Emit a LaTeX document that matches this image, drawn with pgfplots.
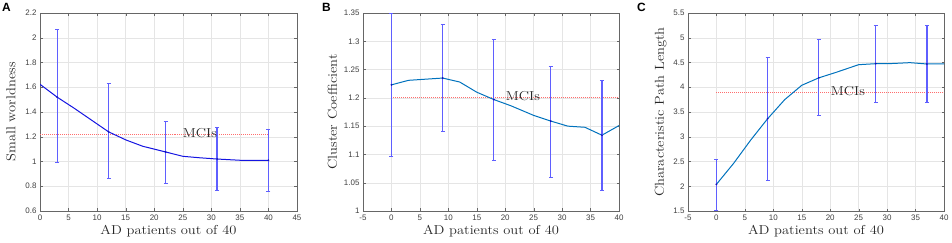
\documentclass[border=0pt]{standalone}
\usepackage{pgfplots}
\pgfplotsset{compat=1.18}
\usepackage{pgfplotstable}
\usepackage{fontspec}
\setmainfont{Latin Modern Roman}[FakeStretch=1.12]
\newfontfamily\ticksans{Liberation Sans}
\definecolor{mblue}{RGB}{0,114,189}
\definecolor{lblue}{RGB}{20,20,225}
\definecolor{errc}{RGB}{95,95,255}
\definecolor{mcired}{RGB}{255,110,110}
\pgfplotsset{
  panel/.style={
    scale only axis, width=256bp, height=198bp, anchor=south west,
    grid=major, grid style={black!10, line width=0.4pt},
    axis line style={black!60}, tick style={black!60},
    major tick length=2.5bp, tick align=inside,
    xtick pos=both, ytick pos=both,
    tick label style={font=\ticksans\fontsize{8}{9}\selectfont, text=black!75},
    /pgf/number format/assume math mode=true,
    label style={font=\fontsize{13}{15}\selectfont, text=black!85},
    xlabel={AD patients out of 40},
    xlabel style={yshift=2bp},
  },
  errs/.style={only marks, mark=*, mark size=0.7bp, color=lblue!80!black,
    error bars/.cd, y dir=both, y explicit,
    error bar style={draw=errc, color=errc, line width=1.25pt},
    error mark options={rotate=90, mark size=2bp, draw=errc, color=errc, line width=1pt}},
  mci/.style={mcired, densely dotted, line width=1pt},
}
\pgfplotstableread{
x y ep em
3 1.52 0.545 0.532
12 1.24 0.394 0.381
22 1.077 0.250 0.253
31 1.02 0.251 0.256
40 1.01 0.250 0.251
}\errA
\pgfplotstableread{
x y ep em
0 1.223 0.127 0.126
9 1.235 0.094 0.094
18 1.197 0.107 0.108
28 1.159 0.097 0.099
37 1.134 0.097 0.097
}\errB
\pgfplotstableread{
x y ep em
0 2.04 0.51 0.527
9 3.365 1.239 1.252
18 4.19 0.765 0.757
28 4.476 0.781 0.774
37 4.47 0.774 0.788
}\errC
\begin{document}
\begin{tikzpicture}
\useasboundingbox (0,0) rectangle (952bp,243bp);
% Panel A
\begin{axis}[panel, at={(40bp,32bp)}, width=257bp,
  xmin=0, xmax=45, ymin=0.6, ymax=2.2,
  xtick={0,5,...,45}, ytick={0.6,0.8,1,1.2,1.4,1.6,1.8,2,2.2},
  ylabel={Small worldness}, ylabel style={yshift=3bp}]
\addplot[mci] coordinates {(0,1.22) (40,1.22)};
\addplot[lblue, line width=1pt] coordinates {
(0,1.624) (3,1.52) (6,1.43) (9,1.335) (12,1.24) (15,1.175) (18,1.123)
(22,1.077) (25,1.042) (28,1.03) (31,1.02) (35,1.01) (40,1.01)};
\addplot[errs] table[y error plus=ep, y error minus=em] {\errA};
\node[font=\fontsize{13}{15}\selectfont, text=black!85] at (axis cs:28,1.232) {MCIs};
\end{axis}
% Panel B
\begin{axis}[panel, at={(363bp,32bp)},
  xmin=-5, xmax=40, ymin=1, ymax=1.35,
  xtick={-5,0,...,40}, ytick={1,1.05,1.1,1.15,1.2,1.25,1.3,1.35},
  yticklabel style={/pgf/number format/fixed, /pgf/number format/precision=2},
  ylabel={Cluster Coefficient}]
\addplot[mci] coordinates {(0,1.2) (40,1.2)};
\addplot[mblue, line width=1pt] coordinates {
(0,1.223) (3,1.231) (6,1.233) (9,1.235) (12,1.228) (15,1.210) (18,1.197)
(21,1.186) (25,1.169) (28,1.159) (31,1.150) (34,1.148) (37,1.134) (40,1.151)};
\addplot[errs] table[y error plus=ep, y error minus=em] {\errB};
\node[font=\fontsize{13}{15}\selectfont, text=black!85] at (axis cs:23.1,1.2025) {MCIs};
\end{axis}
% Panel C
\begin{axis}[panel, at={(688bp,32bp)},
  xmin=-5, xmax=40, ymin=1.5, ymax=5.5,
  xtick={-5,0,...,40}, ytick={1.5,2,2.5,3,3.5,4,4.5,5,5.5},
  ylabel={Characteristic Path Length}]
\addplot[mci] coordinates {(0,3.9) (40,3.9)};
\addplot[mblue, line width=1pt] coordinates {
(0,2.04) (3,2.46) (6,2.93) (9,3.365) (12,3.75) (15,4.04) (18,4.19)
(21,4.3) (25,4.456) (28,4.476) (31,4.48) (34,4.497) (37,4.47) (40,4.47)};
\addplot[errs] table[y error plus=ep, y error minus=em] {\errC};
\node[font=\fontsize{13}{15}\selectfont, text=black!85] at (axis cs:23.1,3.93) {MCIs};
\end{axis}
\node[anchor=north west, inner sep=0pt, font=\ticksans\bfseries\fontsize{12}{13}\selectfont] at (2bp,240bp) {A};
\node[anchor=north west, inner sep=0pt, font=\ticksans\bfseries\fontsize{12}{13}\selectfont] at (322bp,240bp) {B};
\node[anchor=north west, inner sep=0pt, font=\ticksans\bfseries\fontsize{12}{13}\selectfont] at (637bp,240bp) {C};
\end{tikzpicture}
\end{document}
